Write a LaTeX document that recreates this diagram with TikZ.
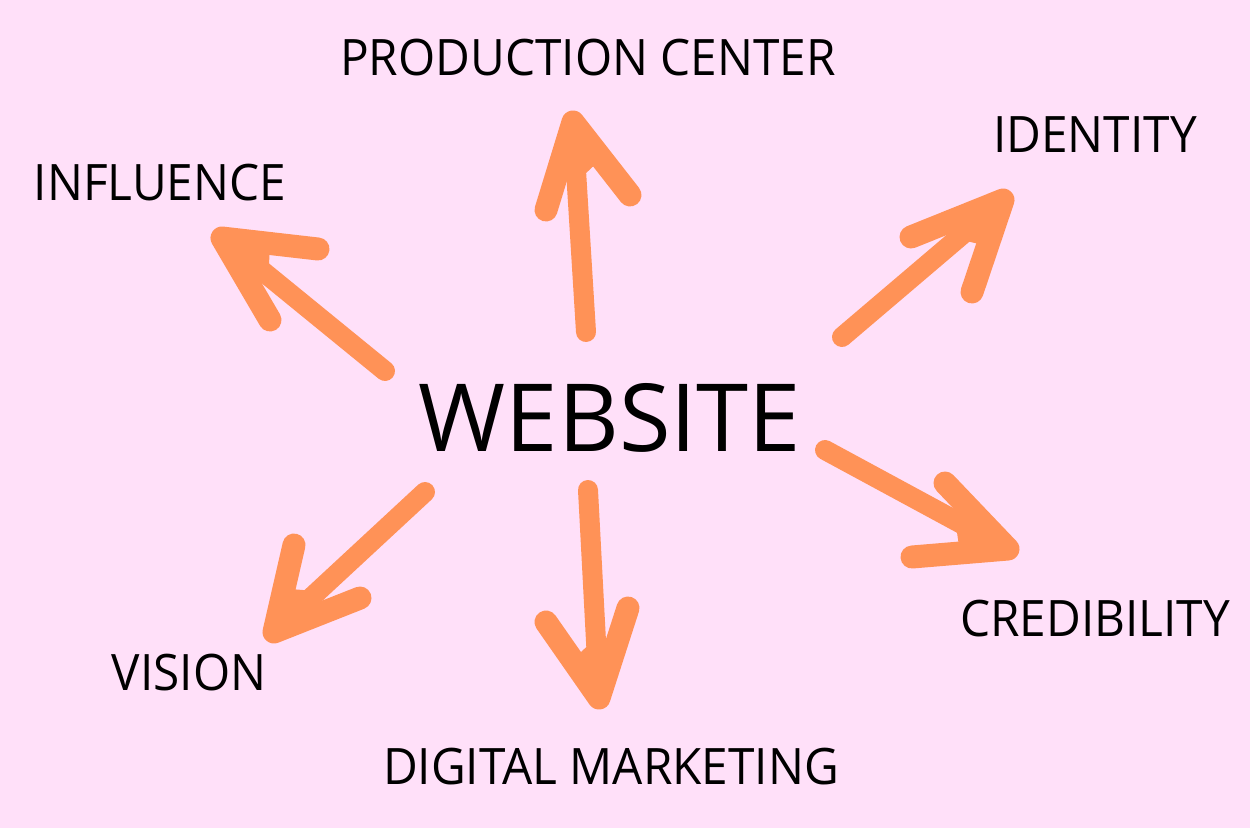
\documentclass[tikz,border=0pt]{standalone}
\usepackage{fontspec}
\setmainfont{Open Sans}
\newfontfamily\labelfont[FakeStretch=0.95]{Open Sans}
\usetikzlibrary{calc}
\definecolor{bgpink}{RGB}{255,224,249}
\definecolor{brushorange}{RGB}{255,146,87}
\tikzset{
  shaft/.style={draw=brushorange,line width=0.4cm,line cap=round,line join=round},
  barb/.style={draw=brushorange,line width=0.46cm,line cap=round,line join=round},
  label/.style={inner sep=0pt,font=\labelfont\fontsize{28.6}{30}\selectfont},
}
\begin{document}
\begin{tikzpicture}[x=0.02cm,y=-0.02cm]
\fill[bgpink] (0,0) rectangle (1250,828);
\useasboundingbox (0,0) rectangle (1250,828);
\node[inner sep=0pt,font=\fontsize{53.5}{56}\selectfont] (web) at (610,418) {WEBSITE};
\node[label] (prod) at (588,58) {PRODUCTION CENTER};
\node[label] (infl) at (160,183) {INFLUENCE};
\node[label] (iden) at (1095,135) {IDENTITY};
\node[label] (cred) at (1095,619) {CREDIBILITY};
\node[label] (visi) at (189,673) {VISION};
\node[label] (digi) at (611,767) {DIGITAL MARKETING};
% influence
\coordinate (A1) at (385,371);
\coordinate (A2) at (222,238);
\coordinate (A3) at (318,249);
\coordinate (A4) at (270,320);
% production center
\coordinate (B1) at (586,332);
\coordinate (B2) at (573,122);
\coordinate (B3) at (546,210);
\coordinate (B4) at (630,195);
% identity
\coordinate (C1) at (842,337);
\coordinate (C2) at (1003,200);
\coordinate (C3) at (911,237);
\coordinate (C4) at (972,292);
% credibility
\coordinate (D1) at (825,450);
\coordinate (D2) at (1008,549);
\coordinate (D3) at (945,483);
\coordinate (D4) at (912,557);
% digital marketing
\coordinate (E1) at (588,490);
\coordinate (E2) at (599,698);
\coordinate (E3) at (546,622);
\coordinate (E4) at (628,608);
% vision
\coordinate (F1) at (425,492);
\coordinate (F2) at (274,632);
\coordinate (F3) at (294,545);
\coordinate (F4) at (360,598);
\foreach \a in {A,B,C,D,E,F}{
  \draw[shaft] (\a1) -- (\a2);
  \draw[barb] (\a3) -- (\a2) -- (\a4);
  \fill[brushorange] (\a2) -- ($(\a2)!0.5!(\a3)$) -- ($(\a2)!1.2cm!(\a1)$) -- ($(\a2)!0.5!(\a4)$) -- cycle;
}
\end{tikzpicture}
\end{document}
